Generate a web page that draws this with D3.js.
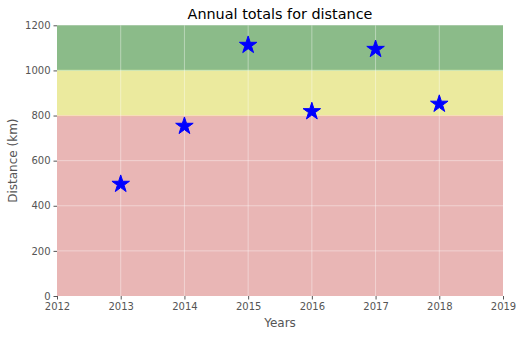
<!DOCTYPE html>
<html><head><meta charset="utf-8">
<script src="https://cdn.jsdelivr.net/npm/d3@7"></script>
<style>body{margin:0;background:#fff}svg{display:block;font-family:"DejaVu Sans",sans-serif}</style>
</head><body>
<script>
const years = [2013, 2014, 2015, 2016, 2017, 2018];
const distances = [496, 753, 1112, 818, 1094, 851];
const bands = [
  {lo: 0, hi: 800, fill: "#e9b6b5", edge: "#f0b8a8"},
  {lo: 800, hi: 1000, fill: "#ebea9e", edge: "#f2c890"},
  {lo: 1000, hi: 1200, fill: "#8bbb89", edge: "#b2d88a"}
];
const xTicks = [2012, 2013, 2014, 2015, 2016, 2017, 2018, 2019];
const yTicks = [0, 200, 400, 600, 800, 1000, 1200];

const W = 522, H = 337;
const m = {l: 57, r: 19, t: 25.3, b: 41};
const svg = d3.select("body").append("svg").attr("width", W).attr("height", H);
const x = d3.scaleLinear().domain([2012, 2019]).range([m.l, W - m.r]);
const y = d3.scaleLinear().domain([0, 1200]).range([H - m.b, m.t]);

svg.append("rect").attr("x", m.l).attr("y", m.t).attr("width", x(2019) - x(2012)).attr("height", y(0) - y(1200)).attr("fill", "#e5e5e5");
svg.selectAll("rect.band").data(bands).enter().append("rect").attr("class", "band")
  .attr("x", x(2012)).attr("width", x(2019) - x(2012))
  .attr("y", d => y(d.hi)).attr("height", d => y(d.lo) - y(d.hi)).attr("fill", d => d.fill);
svg.selectAll("line.edge").data(bands.filter(d => d.lo > 0)).enter().append("line").attr("class", "edge")
  .attr("x1", x(2012)).attr("x2", x(2019)).attr("y1", d => y(d.lo)).attr("y2", d => y(d.lo))
  .attr("stroke", d => d.edge).attr("stroke-width", 1.2);

// grid
const g = svg.append("g").attr("stroke", "#fff").attr("stroke-opacity", 0.4).attr("stroke-width", 1);
g.selectAll("line.vx").data(xTicks.slice(1, -1)).enter().append("line")
  .attr("x1", d => x(d)).attr("x2", d => x(d)).attr("y1", y(0)).attr("y2", y(1200));
g.selectAll("line.hy").data(yTicks.slice(1, -1)).enter().append("line")
  .attr("y1", d => y(d)).attr("y2", d => y(d)).attr("x1", x(2012)).attr("x2", x(2019));

// axes
const xa = svg.append("g").attr("transform", `translate(0,${y(0)})`)
  .call(d3.axisBottom(x).tickValues(xTicks).tickFormat(d3.format("d")).tickSize(3.5).tickPadding(3));
const ya = svg.append("g").attr("transform", `translate(${x(2012)},0)`)
  .call(d3.axisLeft(y).tickValues(yTicks).tickFormat(d3.format("d")).tickSize(3.5).tickPadding(3));
[xa, ya].forEach(a => {
  a.select(".domain").remove();
  a.selectAll(".tick line").attr("stroke", "#555");
  a.selectAll(".tick text").attr("fill", "#555").style("font-size", "10px").style("font-family", "DejaVu Sans");
});

// stars
const star = d3.symbol().type(d3.symbolStar).size(95);
svg.selectAll("path.pt").data(years.map((yr, i) => [yr, distances[i]])).enter().append("path").attr("class", "pt")
  .attr("d", star).attr("transform", d => `translate(${x(d[0])},${y(d[1])})`)
  .attr("fill", "#0000ff").attr("stroke", "#0000ff").attr("stroke-width", 1);

svg.append("text").attr("x", (x(2012) + x(2019)) / 2).attr("y", 19).attr("text-anchor", "middle")
  .style("font-size", "14.4px").attr("fill", "#000").text("Annual totals for distance");
svg.append("text").attr("x", (x(2012) + x(2019)) / 2).attr("y", 327).attr("text-anchor", "middle")
  .style("font-size", "12px").attr("fill", "#555").text("Years");
svg.append("text").attr("transform", `translate(17,${(y(0) + y(1200)) / 2}) rotate(-90)`).attr("text-anchor", "middle")
  .style("font-size", "12px").attr("fill", "#555").text("Distance (km)");
</script>
</body></html>
